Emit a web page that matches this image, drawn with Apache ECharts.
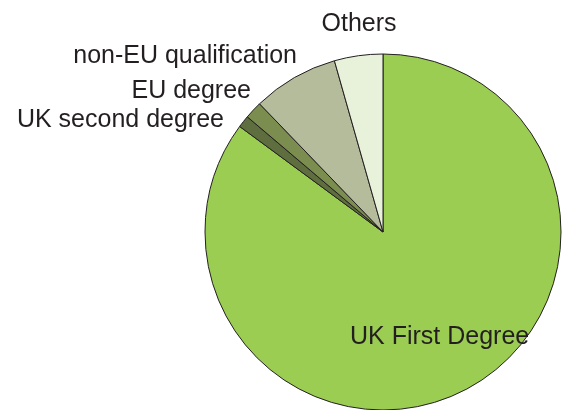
<!DOCTYPE html>
<html>
<head>
	<meta charset="UTF-8">
	<title>Qualifications</title>
	<style>
		html, body {margin: 0; padding: 0; background: #fff;}
		#chart {width: 565px; height: 410px;}
	</style>
</head>
<body>
<div id="chart"></div>
<script src="https://cdn.jsdelivr.net/npm/echarts@6/dist/echarts.min.js"></script>
<script type="text/javascript">
    // slices, clockwise from 12 o'clock
    var names = ['UK First Degree', 'UK second degree', 'EU degree', 'non-EU qualification', 'Others'];
    var shares = [85.1, 1.1, 1.6, 7.8, 4.4];
    var colors = ['#9acd52', '#5e6e3e', '#7b8d4f', '#b4bc9c', '#e8f1da'];

    // where each label sits (x, y, align)
    var labelPos = [
        [350, 337, 'left'],
        [224, 120, 'right'],
        [251, 91, 'right'],
        [297, 56, 'right'],
        [359, 24, 'center']
    ];

    var chart = echarts.init(document.getElementById('chart'));

    var pieData = [];
    for (var i = 0; i < names.length; i++) {
        pieData.push({name: names[i], value: shares[i], itemStyle: {color: colors[i]}});
    }

    chart.setOption({
        animation: false,
        series: [{
            type: 'pie',
            center: [383, 232],
            radius: 178,
            startAngle: 90,
            clockwise: true,
            avoidLabelOverlap: false,
            itemStyle: {borderColor: '#231f20', borderWidth: 1},
            label: {
                show: true,
                position: 'outside',
                formatter: '{b}',
                fontFamily: 'Liberation Sans, Arial, sans-serif',
                fontSize: 25,
                color: '#231f20'
            },
            labelLine: {show: false},
            emphasis: {disabled: true},
            labelLayout: function (p) {
                var pos = labelPos[p.dataIndex];
                return {x: pos[0], y: pos[1], align: pos[2], verticalAlign: 'middle'};
            },
            data: pieData
        }]
    });
</script>
</body>
</html>
